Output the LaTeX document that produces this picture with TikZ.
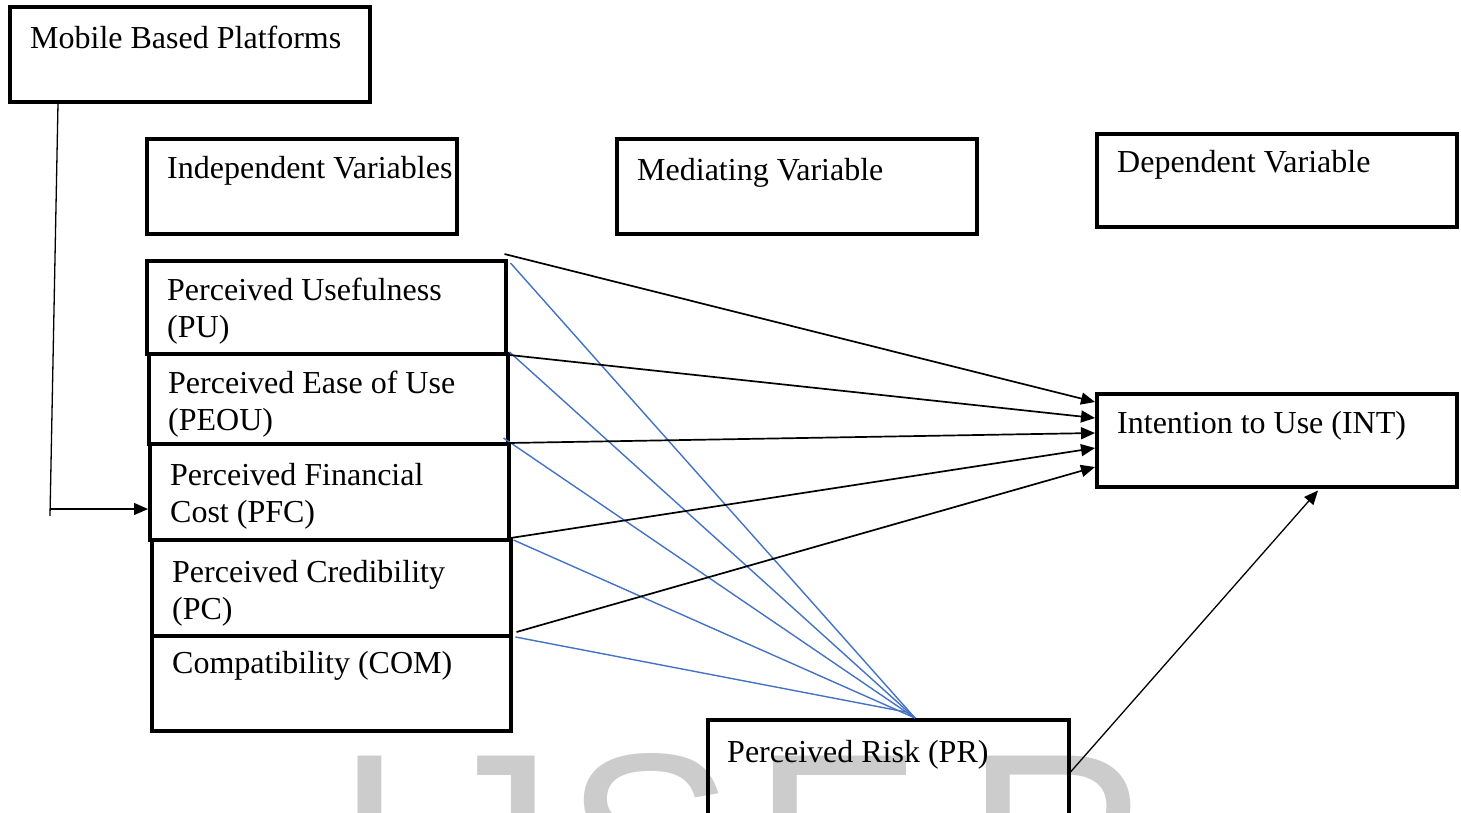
\documentclass[tikz,border=0pt]{standalone}
\usepackage{fontspec}
\setmainfont{Liberation Serif}
\newfontfamily\wmfont{Liberation Sans}
\usetikzlibrary{arrows.meta,calc}
\definecolor{linkblue}{HTML}{4472C4}
\definecolor{wmgray}{HTML}{CCCCCC}
\newcommand{\twoline}[2]{\vtop{\hbox{#1}\hbox{#2}}}
\begin{document}
\begin{tikzpicture}[x=1pt,y=-1pt,
  box/.style={draw, line width=3.5pt, inner sep=0pt, anchor=north west, rectangle},
  txt/.style={inner sep=0pt, anchor=base west, font=\fontsize{32}{37}\selectfont},
  dirarrow/.style={line width=1.7pt, -{Triangle[length=14pt,width=12pt]}},
  medline/.style={linkblue, line width=1.4pt},
  wm/.style={inner sep=0pt, anchor=base west, text=wmgray, font=\wmfont\fontsize{255}{255}\selectfont}]
\clip (0,0) rectangle (1461,812);
% watermark
\node[wm] (wmI) at (334,931) {I};
\node[wm] (wmJ) at (426,931) {J};
\node[wm] (wmS) at (564,931) {S};
\node[wm] (wmE) at (752,931) {E};
\node[wm] (wmR) at (965,931) {R};
% boxes
\node[box, minimum width=360pt, minimum height=95pt] (mob) at (8,5) {};
\node[box, minimum width=310pt, minimum height=95pt] (iv) at (145,137) {};
\node[box, minimum width=360pt, minimum height=95pt] (mv) at (615,137) {};
\node[box, minimum width=360pt, minimum height=93pt] (dv) at (1095,132) {};
\node[box, minimum width=360pt, minimum height=93pt] (int) at (1095,392) {};
\node[box, minimum width=359pt, minimum height=93pt] (pu) at (145,259) {};
\node[box, minimum width=359pt, minimum height=90pt] (peou) at (147,352) {};
\node[box, minimum width=359pt, minimum height=96pt] (pfc) at (148,442) {};
\node[box, minimum width=359pt, minimum height=96pt] (pc) at (150,538) {};
\node[box, minimum width=359pt, minimum height=95pt] (com) at (150,634) {};
\node[box, minimum width=361pt, minimum height=115pt] (pr) at (706,718) {};
% texts
\node[txt] (mobt) at (30,48) {Mobile Based Platforms};
\node[txt] (ivt) at (167,178) {Independent Variables};
\node[txt] (mvt) at (637,180) {Mediating Variable};
\node[txt] (dvt) at (1117,172) {Dependent Variable};
\node[txt] (intt) at (1117,433) {Intention to Use (INT)};
\node[txt] (put) at (167,300) {\twoline{Perceived Usefulness}{(PU)}};
\node[txt] (peout) at (168,393) {\twoline{Perceived Ease of Use}{(PEOU)}};
\node[txt] (pfct) at (170,485) {\twoline{Perceived Financial}{Cost (PFC)}};
\node[txt] (pct) at (172,582) {\twoline{Perceived Credibility}{(PC)}};
\node[txt] (comt) at (172,673) {Compatibility (COM)};
\node[txt] (prt) at (727,762) {Perceived Risk (PR)};
% mobile connector
\coordinate (mobfoot) at (50,516);
\coordinate (mobbend) at (50,509);
\draw[line width=1.3pt] ($(mob.south west)+(50,0)$) -- (mobfoot);
\draw[line width=1.3pt, -{Triangle[length=14pt,width=12pt]}] (mobbend) -- (pfc.west |- mobbend);
% mediator (blue) lines
\coordinate (conv) at ($(pr.north west)+(209,0)$);
\coordinate (conv2) at ($(pr.north west)+(200,-6)$);
\draw[medline] ($(pu.north east)+(3,4)$) -- (conv);
\draw[medline] (peou.north east) -- (conv);
\draw[medline] ($(pfc.north east)+(-7,-4)$) -- (conv);
\draw[medline] ($(pc.north east)+(1,2)$) -- (conv);
\draw[medline] ($(com.north east)+(3,3)$) -- (conv2);
% direct arrows to INT
\draw[dirarrow] ($(pu.north east)+(-3,-5)$) -- ($(int.north west)+(0,10)$);
\draw[dirarrow] ($(peou.north east)+(0,3)$) -- ($(int.north west)+(0,26)$);
\draw[dirarrow] ($(pfc.north east)+(-2,1)$) -- ($(int.north west)+(0,41)$);
\draw[dirarrow] ($(pc.north east)+(-2,0)$) -- ($(int.north west)+(0,56)$);
\draw[dirarrow] ($(com.north east)+(4,-2)$) -- ($(int.north west)+(0,75)$);
% PR to INT
\draw[line width=1.3pt, -{Triangle[length=14pt,width=12pt]}] ($(pr.north east)+(0,54)$) -- ($(int.south west)+(223,2)$);
\end{tikzpicture}
\end{document}
